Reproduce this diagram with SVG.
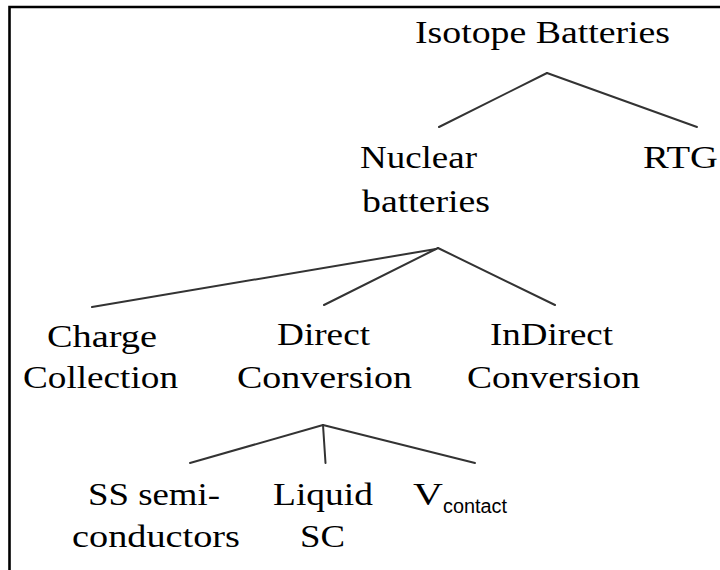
<svg xmlns="http://www.w3.org/2000/svg" width="720" height="570" viewBox="0 0 720 570">
<style>
.t{font-family:"Liberation Serif","Times New Roman",serif;font-size:32.5px;fill:#000}
.sub{font-family:"Liberation Sans",Arial,sans-serif;font-size:20px;fill:#000}
.c line{stroke:#333;stroke-width:2;stroke-linecap:round}
</style>
<rect width="720" height="570" fill="#fff"/>
<path d="M9.5,575 V7 H725" fill="none" stroke="#000" stroke-width="2.6"/>
<g class="c" id="connectors">
<line x1="547" y1="73" x2="439" y2="127"/>
<line x1="547" y1="73" x2="697" y2="127"/>
<line x1="436" y1="249" x2="92" y2="307"/>
<line x1="438" y1="248" x2="324" y2="305"/>
<line x1="438" y1="248" x2="555" y2="305"/>
<line x1="323" y1="425" x2="190" y2="463"/>
<line x1="323" y1="425" x2="325.5" y2="463"/>
<line x1="323" y1="425" x2="475" y2="463"/>
</g>
<g id="isotope"><text class="t" x="415" y="43" textLength="255" lengthAdjust="spacingAndGlyphs">Isotope Batteries</text></g>
<g id="nuclear"><text class="t" x="360" y="168" textLength="117" lengthAdjust="spacingAndGlyphs">Nuclear</text><text class="t" x="362" y="211.5" textLength="128" lengthAdjust="spacingAndGlyphs">batteries</text></g>
<g id="rtg"><text class="t" x="643" y="168" textLength="75" lengthAdjust="spacingAndGlyphs">RTG</text></g>
<g id="charge"><text class="t" x="47" y="346.5" textLength="110" lengthAdjust="spacingAndGlyphs">Charge</text><text class="t" x="23" y="388" textLength="155" lengthAdjust="spacingAndGlyphs">Collection</text></g>
<g id="direct"><text class="t" x="277" y="345" textLength="93" lengthAdjust="spacingAndGlyphs">Direct</text><text class="t" x="237" y="387.5" textLength="175" lengthAdjust="spacingAndGlyphs">Conversion</text></g>
<g id="indirect"><text class="t" x="490" y="345" textLength="123" lengthAdjust="spacingAndGlyphs">InDirect</text><text class="t" x="467" y="387.5" textLength="173" lengthAdjust="spacingAndGlyphs">Conversion</text></g>
<g id="ss"><text class="t" x="88" y="505" textLength="132" lengthAdjust="spacingAndGlyphs">SS semi-</text><text class="t" x="72" y="546.5" textLength="168" lengthAdjust="spacingAndGlyphs">conductors</text></g>
<g id="liquid"><text class="t" x="273" y="505" textLength="100" lengthAdjust="spacingAndGlyphs">Liquid</text><text class="t" x="300" y="546.5" textLength="45" lengthAdjust="spacingAndGlyphs">SC</text></g>
<g id="vcontact"><text class="t" x="413" y="505" textLength="30" lengthAdjust="spacingAndGlyphs">V</text><text class="sub" x="443" y="513" textLength="64" lengthAdjust="spacingAndGlyphs">contact</text></g>
</svg>
